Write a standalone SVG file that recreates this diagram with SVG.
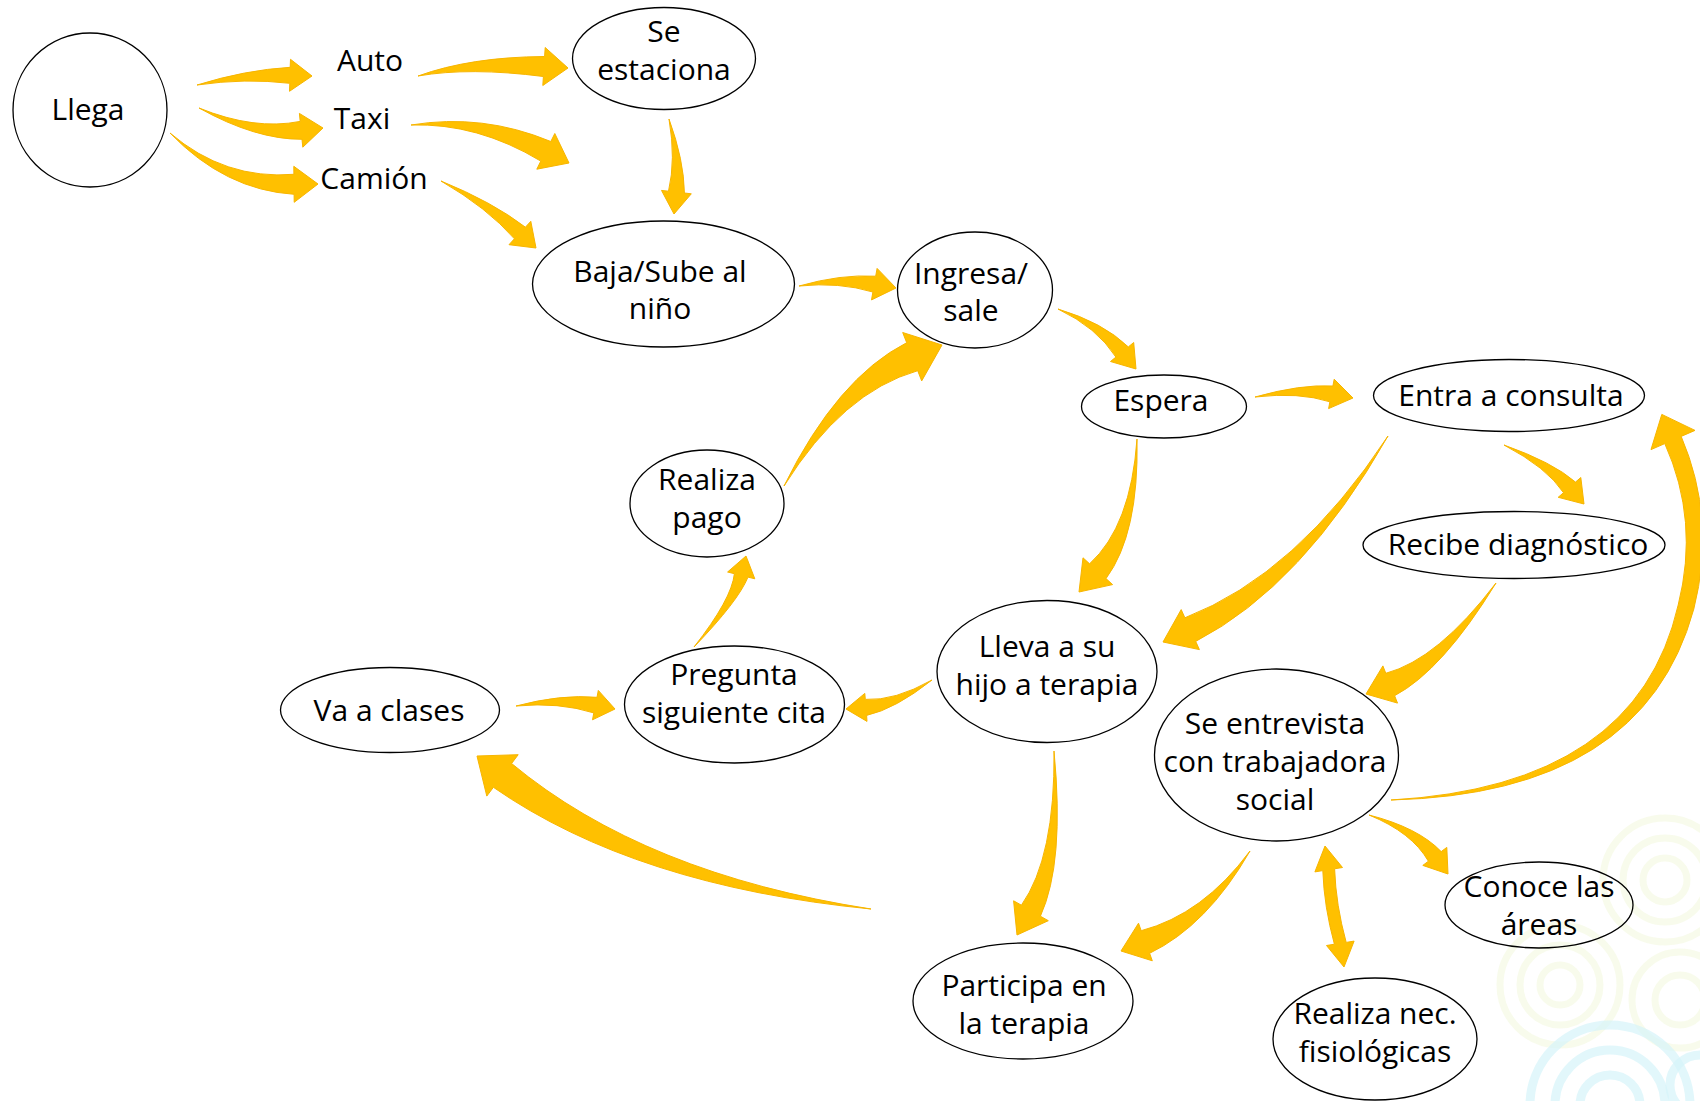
<svg xmlns="http://www.w3.org/2000/svg" width="1700" height="1101" viewBox="0 0 1700 1101">
<style>
  .node ellipse { fill: none; stroke: #000; stroke-width: 1.3; }
  .node text, .lbl { font-family: "Open Sans", "Liberation Sans", sans-serif; font-size: 30px; fill: #000; text-anchor: middle; }
  .arr { fill: #FFC000; stroke: #F7B500; stroke-width: 1; stroke-linejoin: round; }
  .swy { fill: none; stroke: #F3F8DC; stroke-width: 7; opacity: 0.55; }
  .swc { fill: none; stroke: #D6F3FA; stroke-width: 9; opacity: 0.7; }
</style>
<rect x="0" y="0" width="1700" height="1101" fill="#FFFFFF"/>
<g id="background">
  <circle class="swy" cx="1665" cy="880" r="22"/>
  <circle class="swy" cx="1665" cy="880" r="42"/>
  <circle class="swy" cx="1665" cy="880" r="62"/>
  <circle class="swy" cx="1560" cy="985" r="20"/>
  <circle class="swy" cx="1560" cy="985" r="40"/>
  <circle class="swy" cx="1560" cy="985" r="60"/>
  <circle class="swy" cx="1680" cy="1000" r="25"/>
  <circle class="swy" cx="1680" cy="1000" r="48"/>
  <circle class="swc" cx="1610" cy="1105" r="30"/>
  <circle class="swc" cx="1610" cy="1105" r="55"/>
  <circle class="swc" cx="1610" cy="1105" r="80"/>
  <circle class="swc" cx="1700" cy="1085" r="30"/>
</g>
<g id="connectors">
  <path class="arr" d="M197,85 Q244.9,78 289.8,83.3 L289.5,91.3 L312,76 L290.5,59.3 L290.2,67.3 Q245.1,70 197,85Z"/>
  <path class="arr" d="M199,108 Q255.5,139.5 302,139.3 L302.8,147.2 L323,128 L299.4,113.4 L300.2,121.4 Q254.5,130.5 199,108Z"/>
  <path class="arr" d="M170,133 Q225,190 294.1,194.3 L294.2,202.3 L318,184 L293.8,166.3 L293.9,174.3 Q225,180 170,133Z"/>
  <path class="arr" d="M418,76 Q469.7,67 543.4,76.5 L542.8,85.5 L568,68 L545.2,47.5 L544.6,56.5 Q470.3,57 418,76Z"/>
  <path class="arr" d="M411,125 Q477.5,122.9 540.8,161.1 L536.8,169.2 L569,163 L554.8,133.5 L550.8,141.5 Q482.5,113.1 411,125Z"/>
  <path class="arr" d="M441,181 Q487.3,207.9 514.4,238.8 L509,244.7 L536,248 L530.8,221.3 L525.4,227.2 Q492.7,202.1 441,181Z"/>
  <path class="arr" d="M669,119 Q676,159.6 668.5,191.2 L661.5,190.4 L674,214 L691.3,193.8 L684.4,193 Q684,160.4 669,119Z"/>
  <path class="arr" d="M799,286 Q839.3,281.9 872.9,292 L871.5,299.9 L896,288 L877.1,268.4 L875.7,276.2 Q840.7,274.1 799,286Z"/>
  <path class="arr" d="M1058,309 Q1096.9,327.5 1115.9,357.1 L1110.5,361.5 L1136,369 L1133.7,342.5 L1128.3,346.9 Q1103.1,322.5 1058,309Z"/>
  <path class="arr" d="M1255,397 Q1299.3,391.9 1329.9,401.8 L1328.6,408.6 L1353,398 L1334.2,379.2 L1332.9,386 Q1300.7,384.1 1255,397Z"/>
  <path class="arr" d="M1137,439 Q1130.9,526.3 1089.6,563.8 L1083,557.8 L1079,592 L1112.6,584.6 L1106,578.6 Q1139.1,533.7 1137,439Z"/>
  <path class="arr" d="M1388,436 Q1297.3,574.1 1184.9,617.8 L1181.2,609.6 L1163,642 L1199.4,649.6 L1195.7,641.4 Q1302.7,585.9 1388,436Z"/>
  <path class="arr" d="M1504,445 Q1547,467.6 1563.5,492.7 L1558.2,497.3 L1584,504 L1580.8,477.5 L1575.5,482.1 Q1553,462.4 1504,445Z"/>
  <path class="arr" d="M1496,583 Q1437.8,659.4 1385.8,673.3 L1382.9,665.9 L1366,694 L1397.5,703.1 L1394.6,695.7 Q1442.2,670.6 1496,583Z"/>
  <path class="arr" d="M1391,800 Q1643.2,794 1693.8,609 Q1716.5,519.3 1681.2,436.4 L1695,430.4 L1661.8,414.4 L1651,449.6 L1664.8,443.6 Q1699.5,520.7 1678.2,605 Q1636.8,786 1391,800Z"/>
  <path class="arr" d="M1250,851 Q1202.9,914.4 1141.2,930.7 L1138.5,923.2 L1121,951 L1152.3,960.8 L1149.6,953.3 Q1207.1,925.6 1250,851Z"/>
  <path class="arr" d="M1325,846 L1342.5,867.5 L1334.6,868.8 Q1335.9,905.1 1346.2,942.4 L1354.1,941.1 L1344,967 L1326.5,945.5 L1334.4,944.2 Q1324.1,906.9 1322.8,870.6 L1314.9,871.9 Z"/>
  <path class="arr" d="M1369,815 Q1411.8,832.4 1428.4,861.2 L1422.8,865.4 L1448,874 L1446.8,847.4 L1441.2,851.6 Q1418.2,827.6 1369,815Z"/>
  <path class="arr" d="M1054,751 Q1055.2,857.3 1021.4,905.2 L1013.6,900.8 L1017,935 L1048.3,920.7 L1040.4,916.2 Q1064.8,862.7 1054,751Z"/>
  <path class="arr" d="M932,680 Q894.7,701 865.3,699.4 L864.8,693.4 L846,709 L867,721.4 L866.6,715.4 Q895.3,709 932,680Z"/>
  <path class="arr" d="M516,706 Q559.2,701.9 593.8,712.9 L592.5,719.8 L615,709 L598.3,690.4 L597,697.3 Q560.8,694.1 516,706Z"/>
  <path class="arr" d="M694,647 Q738.4,600.9 748,577.1 L754.8,578.8 L746,556 L727.6,572 L734.4,573.7 Q731.6,599.2 694,647Z"/>
  <path class="arr" d="M784,486 Q842.7,392 917.7,370.7 L921.7,380.9 L942,345 L902.7,332.5 L906.7,342.7 Q837.3,378 784,486Z"/>
  <path class="arr" d="M871,909 Q644.5,874 511.6,763.5 L518.2,754.7 L477,756 L486.8,796.1 L493.4,787.3 Q635.5,886 871,909Z"/>
</g>
<g id="llega" class="node"><ellipse cx="90" cy="110" rx="77" ry="77"/><text x="88" y="120">Llega</text></g>
<g id="auto"><text class="lbl" x="370" y="71">Auto</text></g>
<g id="taxi"><text class="lbl" x="362" y="129">Taxi</text></g>
<g id="camion"><text class="lbl" x="374" y="189">Camión</text></g>
<g id="se-estaciona" class="node"><ellipse cx="664" cy="58.5" rx="91.5" ry="51"/><text x="664" y="42">Se</text><text x="664" y="80">estaciona</text></g>
<g id="baja-sube" class="node"><ellipse cx="663.5" cy="284" rx="131" ry="63"/><text x="660" y="282">Baja/Sube al</text><text x="660" y="319">niño</text></g>
<g id="ingresa-sale" class="node"><ellipse cx="975" cy="290" rx="77.5" ry="58"/><text x="971" y="284">Ingresa/</text><text x="971" y="321">sale</text></g>
<g id="espera" class="node"><ellipse cx="1164" cy="406.5" rx="82.5" ry="31.5"/><text x="1161" y="411">Espera</text></g>
<g id="entra-consulta" class="node"><ellipse cx="1509" cy="395.5" rx="135.5" ry="36"/><text x="1511" y="406">Entra a consulta</text></g>
<g id="recibe-diagnostico" class="node"><ellipse cx="1514" cy="545" rx="151" ry="33.5"/><text x="1518" y="555">Recibe diagnóstico</text></g>
<g id="realiza-pago" class="node"><ellipse cx="707" cy="503.5" rx="77" ry="53.5"/><text x="707" y="490">Realiza</text><text x="707" y="528">pago</text></g>
<g id="pregunta-cita" class="node"><ellipse cx="734.5" cy="704.5" rx="110" ry="58.5"/><text x="734" y="685">Pregunta</text><text x="734" y="723">siguiente cita</text></g>
<g id="va-clases" class="node"><ellipse cx="390" cy="710" rx="109.5" ry="42.5"/><text x="389" y="721">Va a clases</text></g>
<g id="lleva-terapia" class="node"><ellipse cx="1047" cy="671.5" rx="110" ry="71"/><text x="1047" y="657">Lleva a su</text><text x="1047" y="695">hijo a terapia</text></g>
<g id="se-entrevista" class="node"><ellipse cx="1276.5" cy="755" rx="122" ry="86"/><text x="1275" y="734">Se entrevista</text><text x="1275" y="772">con trabajadora</text><text x="1275" y="810">social</text></g>
<g id="participa-terapia" class="node"><ellipse cx="1023" cy="1001" rx="110" ry="58"/><text x="1024" y="996">Participa en</text><text x="1024" y="1034">la terapia</text></g>
<g id="conoce-areas" class="node"><ellipse cx="1539" cy="905" rx="94" ry="43"/><text x="1539" y="897">Conoce las</text><text x="1539" y="935">áreas</text></g>
<g id="realiza-nec" class="node"><ellipse cx="1375" cy="1039" rx="102" ry="61"/><text x="1375" y="1024">Realiza nec.</text><text x="1375" y="1062">fisiológicas</text></g>
</svg>
